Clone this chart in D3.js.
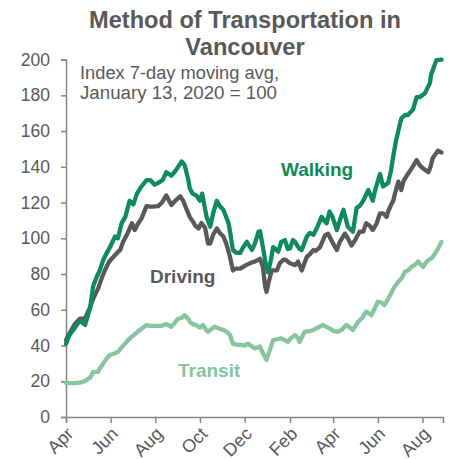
<!DOCTYPE html>
<html lang="en">
<head>
  <meta charset="utf-8">
  <title>Method of Transportation in Vancouver</title>
  <script src="https://d3js.org/d3.v7.min.js"></script>
  <style>
    body { margin: 0; background: #fff; }
    svg text { font-family: "Liberation Sans", Arial, sans-serif; }
  </style>
</head>
<body>
<div id="chart"></div>
<script>
// index, 7-day moving avg (Jan 13, 2020 = 100)
var walking = [
  ["2020-04-01", 41], ["2020-04-06", 46], ["2020-04-13", 50], ["2020-04-20", 54], ["2020-04-27", 51.5],
  ["2020-05-04", 61], ["2020-05-08", 73], ["2020-05-13", 78.5], ["2020-05-17", 82], ["2020-05-22", 88],
  ["2020-05-27", 92], ["2020-05-31", 95], ["2020-06-07", 101], ["2020-06-11", 100], ["2020-06-16", 108.5],
  ["2020-06-21", 112], ["2020-06-25", 118], ["2020-06-27", 121], ["2020-07-02", 119], ["2020-07-07", 125],
  ["2020-07-13", 129], ["2020-07-20", 132.6], ["2020-07-25", 132.6], ["2020-07-31", 130], ["2020-08-05", 131],
  ["2020-08-11", 132.6], ["2020-08-16", 137], ["2020-08-23", 135], ["2020-08-29", 138], ["2020-09-06", 143],
  ["2020-09-10", 141], ["2020-09-15", 133], ["2020-09-17", 128], ["2020-09-21", 125], ["2020-09-26", 124],
  ["2020-10-01", 121], ["2020-10-04", 125], ["2020-10-10", 112], ["2020-10-15", 106.5], ["2020-10-19", 114],
  ["2020-10-24", 121], ["2020-10-28", 118], ["2020-11-02", 116], ["2020-11-09", 108.5], ["2020-11-11", 104],
  ["2020-11-15", 93.5], ["2020-11-19", 92], ["2020-11-25", 91.8], ["2020-11-29", 95], ["2020-12-04", 98],
  ["2020-12-11", 93.5], ["2020-12-15", 97], ["2020-12-20", 103.7], ["2020-12-22", 104], ["2020-12-26", 95],
  ["2020-12-30", 85], ["2021-01-02", 81], ["2021-01-06", 88], ["2021-01-09", 95], ["2021-01-16", 92.5],
  ["2021-01-20", 98], ["2021-01-25", 99], ["2021-01-29", 94], ["2021-02-01", 94.3], ["2021-02-05", 99],
  ["2021-02-08", 98], ["2021-02-14", 94], ["2021-02-17", 93.5], ["2021-02-24", 101], ["2021-02-28", 103],
  ["2021-03-05", 102], ["2021-03-10", 106], ["2021-03-16", 112], ["2021-03-23", 108.4], ["2021-03-27", 115],
  ["2021-03-31", 112], ["2021-04-06", 104.6], ["2021-04-10", 110], ["2021-04-15", 116], ["2021-04-21", 106.5],
  ["2021-04-28", 103.7], ["2021-05-03", 117], ["2021-05-07", 118], ["2021-05-12", 121], ["2021-05-19", 127],
  ["2021-05-25", 121], ["2021-05-29", 128], ["2021-06-04", 136], ["2021-06-08", 129], ["2021-06-15", 131],
  ["2021-06-19", 138], ["2021-06-22", 146], ["2021-06-26", 155], ["2021-07-03", 167], ["2021-07-08", 169],
  ["2021-07-12", 169], ["2021-07-19", 172], ["2021-07-24", 179], ["2021-07-28", 179], ["2021-08-04", 181],
  ["2021-08-11", 186.7], ["2021-08-13", 192], ["2021-08-20", 199.7], ["2021-08-27", 200]
];

var driving = [
  ["2020-04-01", 43], ["2020-04-06", 47], ["2020-04-13", 52], ["2020-04-20", 55], ["2020-04-27", 55],
  ["2020-05-04", 61.7], ["2020-05-09", 67], ["2020-05-15", 72], ["2020-05-20", 78], ["2020-05-24", 82],
  ["2020-05-30", 87], ["2020-06-05", 89.7], ["2020-06-10", 92], ["2020-06-14", 93.5], ["2020-06-18", 98],
  ["2020-06-23", 101.8], ["2020-06-30", 108.4], ["2020-07-04", 104.6], ["2020-07-08", 108], ["2020-07-13", 111],
  ["2020-07-20", 118], ["2020-07-25", 117.7], ["2020-07-29", 117.7], ["2020-08-05", 118], ["2020-08-10", 120],
  ["2020-08-16", 124], ["2020-08-23", 118.6], ["2020-08-28", 121], ["2020-09-04", 123.5], ["2020-09-08", 121],
  ["2020-09-13", 116], ["2020-09-17", 112], ["2020-09-22", 109], ["2020-09-24", 107.4], ["2020-09-29", 105.5],
  ["2020-10-03", 108.5], ["2020-10-08", 106], ["2020-10-12", 97], ["2020-10-15", 97], ["2020-10-19", 102],
  ["2020-10-24", 105.5], ["2020-10-28", 103], ["2020-11-02", 101], ["2020-11-06", 97], ["2020-11-11", 89.7],
  ["2020-11-15", 82], ["2020-11-19", 83], ["2020-11-25", 83], ["2020-11-29", 84], ["2020-12-03", 85],
  ["2020-12-08", 86], ["2020-12-15", 87], ["2020-12-22", 88.5], ["2020-12-26", 84], ["2020-12-29", 73],
  ["2020-12-31", 70], ["2021-01-02", 74], ["2021-01-07", 82], ["2021-01-14", 82], ["2021-01-18", 86],
  ["2021-01-23", 88], ["2021-01-26", 88], ["2021-02-01", 86], ["2021-02-08", 85], ["2021-02-12", 87],
  ["2021-02-17", 82], ["2021-02-24", 89.7], ["2021-02-28", 91], ["2021-03-05", 93.5], ["2021-03-08", 93],
  ["2021-03-14", 95], ["2021-03-21", 101.8], ["2021-03-25", 102.6], ["2021-04-01", 97], ["2021-04-06", 93.5],
  ["2021-04-10", 98], ["2021-04-17", 102.6], ["2021-04-21", 100], ["2021-04-26", 96], ["2021-05-01", 99],
  ["2021-05-07", 103.7], ["2021-05-12", 103.7], ["2021-05-16", 108.4], ["2021-05-21", 107], ["2021-05-25", 104.6],
  ["2021-05-30", 108], ["2021-06-04", 114], ["2021-06-08", 114], ["2021-06-13", 112], ["2021-06-15", 115],
  ["2021-06-20", 119.5], ["2021-06-22", 121], ["2021-06-25", 126], ["2021-06-29", 131.7], ["2021-07-03", 127],
  ["2021-07-06", 132], ["2021-07-12", 136], ["2021-07-17", 139], ["2021-07-24", 143.8], ["2021-07-28", 141],
  ["2021-08-02", 139], ["2021-08-09", 137], ["2021-08-12", 140], ["2021-08-15", 145], ["2021-08-22", 149],
  ["2021-08-27", 148]
];

var transit = [
  ["2020-04-01", 19], ["2020-04-06", 19], ["2020-04-13", 19], ["2020-04-20", 19.2], ["2020-04-26", 20],
  ["2020-04-29", 20.7], ["2020-05-04", 22], ["2020-05-08", 25.3], ["2020-05-15", 25.3], ["2020-05-17", 27],
  ["2020-05-22", 30], ["2020-05-27", 33], ["2020-05-31", 34.7], ["2020-06-06", 35.5], ["2020-06-11", 36.5],
  ["2020-06-16", 39], ["2020-06-21", 41.2], ["2020-06-25", 43], ["2020-06-30", 45], ["2020-07-06", 47],
  ["2020-07-11", 48.7], ["2020-07-15", 50], ["2020-07-20", 51.5], ["2020-07-25", 51], ["2020-08-03", 51],
  ["2020-08-10", 51], ["2020-08-16", 52], ["2020-08-23", 50.5], ["2020-08-28", 53], ["2020-09-01", 55],
  ["2020-09-06", 55.5], ["2020-09-10", 57], ["2020-09-15", 55], ["2020-09-17", 53.3], ["2020-09-21", 52],
  ["2020-09-26", 51.5], ["2020-10-01", 50], ["2020-10-05", 51.5], ["2020-10-09", 49], ["2020-10-12", 47.7],
  ["2020-10-16", 49], ["2020-10-21", 50.5], ["2020-10-27", 49.5], ["2020-11-02", 48.7], ["2020-11-07", 47.5],
  ["2020-11-11", 46], ["2020-11-15", 41], ["2020-11-20", 40.5], ["2020-11-27", 40.3], ["2020-12-01", 40],
  ["2020-12-06", 41], ["2020-12-11", 39.5], ["2020-12-15", 38.4], ["2020-12-20", 39], ["2020-12-22", 39.5],
  ["2020-12-26", 35.6], ["2020-12-31", 32], ["2021-01-04", 37], ["2021-01-09", 43], ["2021-01-14", 43.5],
  ["2021-01-20", 44], ["2021-01-25", 43], ["2021-01-29", 42], ["2021-02-02", 44], ["2021-02-08", 45.9],
  ["2021-02-12", 44], ["2021-02-14", 42], ["2021-02-21", 47.7], ["2021-02-27", 48], ["2021-03-05", 48.7],
  ["2021-03-11", 50], ["2021-03-18", 51.5], ["2021-03-22", 50.5], ["2021-03-27", 49.6], ["2021-04-02", 48],
  ["2021-04-08", 47.7], ["2021-04-13", 49], ["2021-04-19", 51.5], ["2021-04-24", 50], ["2021-04-28", 48.7],
  ["2021-05-05", 53.3], ["2021-05-10", 55], ["2021-05-16", 59], ["2021-05-20", 58], ["2021-05-23", 57],
  ["2021-05-28", 61], ["2021-06-01", 64.5], ["2021-06-06", 64], ["2021-06-10", 62.7], ["2021-06-15", 66],
  ["2021-06-20", 70], ["2021-06-24", 73], ["2021-06-29", 75.7], ["2021-07-04", 78], ["2021-07-08", 81.3],
  ["2021-07-12", 82], ["2021-07-17", 84], ["2021-07-21", 85], ["2021-07-26", 87], ["2021-07-28", 86],
  ["2021-08-02", 84], ["2021-08-05", 86], ["2021-08-09", 87.8], ["2021-08-14", 89], ["2021-08-18", 91.5],
  ["2021-08-22", 94], ["2021-08-27", 98]
];

var yTicks = [0, 20, 40, 60, 80, 100, 120, 140, 160, 180, 200];
var xTicks = ["2020-04-01", "2020-06-01", "2020-08-01", "2020-10-01", "2020-12-01",
              "2021-02-01", "2021-04-01", "2021-06-01", "2021-08-01"];

var parse = d3.timeParse("%Y-%m-%d");

var W = 451, H = 459;
var svg = d3.select("#chart").append("svg")
  .attr("width", W)
  .attr("height", H);

var x = d3.scaleTime()
  .domain([parse("2020-04-01"), parse("2021-08-29")])
  .range([66, 443]);

var y = d3.scaleLinear()
  .domain([0, 200])
  .range([417, 59.6]);

// title
var title = svg.append("text")
  .attr("text-anchor", "middle")
  .attr("font-size", 23.6)
  .attr("font-weight", "bold")
  .attr("fill", "#595959");
title.append("tspan").attr("x", 245).attr("y", 28).text("Method of Transportation in");
title.append("tspan").attr("x", 245).attr("y", 55).text("Vancouver");

// y axis
var yAxis = svg.append("g")
  .attr("transform", "translate(66,0)")
  .call(d3.axisLeft(y).tickValues(yTicks).tickSize(5).tickPadding(11));

// x axis
var xAxis = svg.append("g")
  .attr("transform", "translate(0,417)")
  .call(d3.axisBottom(x).tickValues(xTicks.map(parse)).tickSize(6).tickFormat(d3.timeFormat("%b")));

svg.selectAll(".domain, .tick line")
  .attr("stroke", "#868686")
  .attr("stroke-width", 1.5);
svg.selectAll(".tick text")
  .attr("fill", "#595959")
  .attr("font-size", 17.5)
  .attr("font-family", "Liberation Sans, Arial, sans-serif");

xAxis.selectAll("text")
  .attr("text-anchor", "end")
  .attr("dy", null)
  .attr("y", null)
  .attr("font-size", 18)
  .attr("transform", "translate(8,18) rotate(-45)");

// subtitle
var sub = svg.append("text")
  .attr("font-size", 18)
  .attr("fill", "#595959");
sub.append("tspan").attr("x", 80).attr("y", 79).attr("textLength", 199).attr("lengthAdjust", "spacingAndGlyphs").text("Index 7-day moving avg,");
sub.append("tspan").attr("x", 80).attr("y", 99).attr("textLength", 197).attr("lengthAdjust", "spacingAndGlyphs").text("January 13, 2020 = 100");

var line = d3.line()
  .x(function (d) { return x(parse(d[0])); })
  .y(function (d) { return y(d[1]); });

var series = [
  { name: "Transit", data: transit, color: "#86c59e" },
  { name: "Driving", data: driving, color: "#595959" },
  { name: "Walking", data: walking, color: "#0e8a5c" }
];

svg.selectAll("path.series")
  .data(series)
  .enter().append("path")
  .attr("class", "series")
  .attr("d", function (d) { return line(d.data); })
  .attr("fill", "none")
  .attr("stroke", function (d) { return d.color; })
  .attr("stroke-width", 4.3)
  .attr("stroke-linejoin", "round")
  .attr("stroke-linecap", "round");

// series labels
var labelPos = { Walking: [281, 176], Driving: [150, 283], Transit: [178, 377] };
svg.selectAll("text.lbl")
  .data(series)
  .enter().append("text")
  .attr("class", "lbl")
  .attr("x", function (d) { return labelPos[d.name][0]; })
  .attr("y", function (d) { return labelPos[d.name][1]; })
  .attr("font-size", 19)
  .attr("font-weight", "bold")
  .attr("fill", function (d) { return d.color; })
  .text(function (d) { return d.name; });
</script>
</body>
</html>
